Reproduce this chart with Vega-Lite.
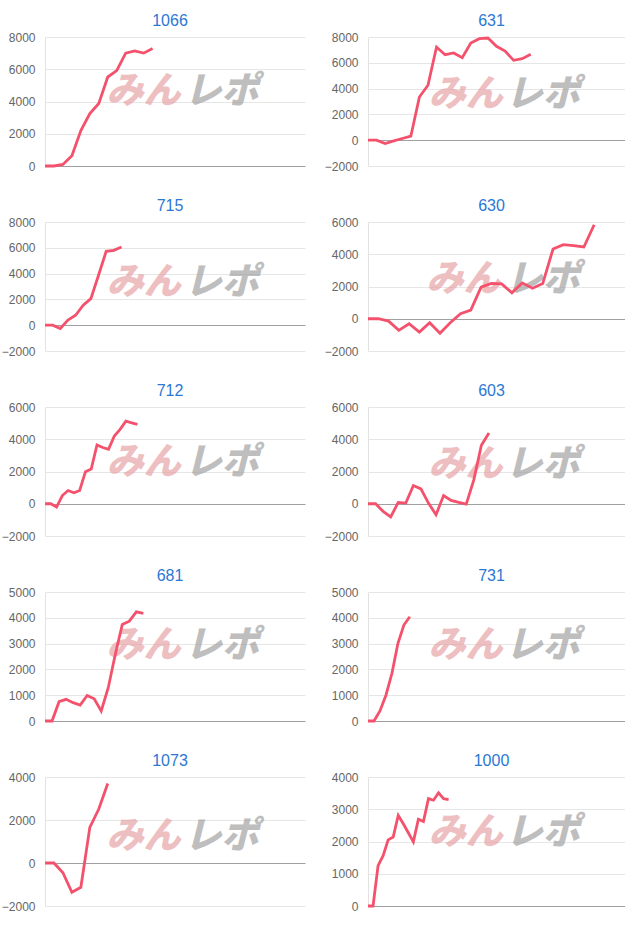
{
  "$schema": "https://vega.github.io/schema/vega-lite/v6.json",
  "padding": {"left": 0, "top": 13, "right": 0, "bottom": 0},
  "background": "white",
  "spacing": 26,
  "datasets": {
    "p1066": [{"x":0,"v":0},{"x":1,"v":0},{"x":2,"v":100},{"x":3,"v":640},{"x":4,"v":2200},{"x":5,"v":3250},{"x":6,"v":3880},{"x":7,"v":5520},{"x":8,"v":5920},{"x":9,"v":7000},{"x":10,"v":7140},{"x":11,"v":7000},{"x":12,"v":7290}],
    "p631": [{"x":0,"v":0},{"x":1,"v":0},{"x":2,"v":-260},{"x":3,"v":-50},{"x":4,"v":130},{"x":5,"v":310},{"x":6,"v":3350},{"x":7,"v":4260},{"x":8,"v":7220},{"x":9,"v":6630},{"x":10,"v":6760},{"x":11,"v":6400},{"x":12,"v":7530},{"x":13,"v":7870},{"x":14,"v":7920},{"x":15,"v":7280},{"x":16,"v":6910},{"x":17,"v":6190},{"x":18,"v":6320},{"x":19,"v":6660}],
    "p715": [{"x":0,"v":0},{"x":1,"v":0},{"x":2,"v":-260},{"x":3,"v":390},{"x":4,"v":770},{"x":5,"v":1550},{"x":6,"v":2060},{"x":7,"v":3870},{"x":8,"v":5730},{"x":9,"v":5800},{"x":10,"v":6060}],
    "p630": [{"x":0,"v":0},{"x":1,"v":0},{"x":2,"v":-145},{"x":3,"v":-720},{"x":4,"v":-310},{"x":5,"v":-825},{"x":6,"v":-250},{"x":7,"v":-905},{"x":8,"v":-250},{"x":9,"v":310},{"x":10,"v":535},{"x":11,"v":1960},{"x":12,"v":2185},{"x":13,"v":2165},{"x":14,"v":1610},{"x":15,"v":2225},{"x":16,"v":1895},{"x":17,"v":2185},{"x":18,"v":4325},{"x":19,"v":4595},{"x":20,"v":4530},{"x":21,"v":4450},{"x":22,"v":5830}],
    "p712": [{"x":0,"v":0},{"x":1,"v":0},{"x":2,"v":-205},{"x":3,"v":510},{"x":4,"v":820},{"x":5,"v":680},{"x":6,"v":820},{"x":7,"v":1990},{"x":8,"v":2150},{"x":9,"v":3650},{"x":10,"v":3490},{"x":11,"v":3380},{"x":12,"v":4200},{"x":13,"v":4610},{"x":14,"v":5125},{"x":15,"v":5020},{"x":16,"v":4920}],
    "p603": [{"x":0,"v":0},{"x":1,"v":0},{"x":2,"v":-470},{"x":3,"v":-820},{"x":4,"v":80},{"x":5,"v":40},{"x":6,"v":1130},{"x":7,"v":920},{"x":8,"v":40},{"x":9,"v":-680},{"x":10,"v":510},{"x":11,"v":205},{"x":12,"v":80},{"x":13,"v":-20},{"x":14,"v":1480},{"x":15,"v":3630},{"x":16,"v":4390}],
    "p681": [{"x":0,"v":0},{"x":1,"v":0},{"x":2,"v":750},{"x":3,"v":840},{"x":4,"v":710},{"x":5,"v":620},{"x":6,"v":990},{"x":7,"v":860},{"x":8,"v":390},{"x":9,"v":1290},{"x":10,"v":2580},{"x":11,"v":3740},{"x":12,"v":3870},{"x":13,"v":4230},{"x":14,"v":4170}],
    "p731": [{"x":0,"v":0},{"x":1,"v":0},{"x":2,"v":390},{"x":3,"v":1000},{"x":4,"v":1840},{"x":5,"v":3000},{"x":6,"v":3720},{"x":7,"v":4040}],
    "p1073": [{"x":0,"v":0},{"x":1,"v":0},{"x":2,"v":-450},{"x":3,"v":-1360},{"x":4,"v":-1130},{"x":5,"v":1660},{"x":6,"v":2510},{"x":7,"v":3700}],
    "p1000": [{"x":0,"v":0},{"x":1,"v":0},{"x":2,"v":1250},{"x":3,"v":1560},{"x":4,"v":2050},{"x":5,"v":2140},{"x":6,"v":2810},{"x":7,"v":2550},{"x":8,"v":2270},{"x":9,"v":1990},{"x":10,"v":2690},{"x":11,"v":2620},{"x":12,"v":3330},{"x":13,"v":3280},{"x":14,"v":3510},{"x":15,"v":3330},{"x":16,"v":3300}]
  },
  "vconcat": [
    {"spacing": 18, "hconcat": [
      {"width": 260, "height": 129, "title": {"text": "1066"},
       "encoding": {
         "x": {"field": "x", "type": "quantitative", "scale": {"domain": [0, 29], "nice": false, "zero": false}, "axis": null},
         "y": {"field": "v", "type": "quantitative", "scale": {"domain": [0, 8000], "nice": false}, "axis": {"title": null, "values": [0, 2000, 4000, 6000, 8000]}}},
       "layer": [
        {"data": {"values": [{"t": "みん", "x": 11.0, "v": 4600}]}, "mark": {"type": "text", "fill": "#e7a4a8"}, "encoding": {"text": {"field": "t"}}},
        {"data": {"values": [{"t": "レポ", "x": 19.7, "v": 4600}]}, "mark": {"type": "text", "fill": "#a3a3a3"}, "encoding": {"text": {"field": "t"}}},
        {"data": {"name": "p1066"}, "mark": {"type": "line", "color": "#f4516c", "strokeWidth": 2.8}}
      ]},
      {"width": 257, "height": 129, "title": {"text": "631"},
       "encoding": {
         "x": {"field": "x", "type": "quantitative", "scale": {"domain": [0, 30], "nice": false, "zero": false}, "axis": null},
         "y": {"field": "v", "type": "quantitative", "scale": {"domain": [-2000, 8000], "nice": false}, "axis": {"title": null, "values": [-2000, 0, 2000, 4000, 6000, 8000]}}},
       "layer": [
        {"data": {"values": [{"t": "みん", "x": 11.4, "v": 3500}]}, "mark": {"type": "text", "fill": "#e7a4a8"}, "encoding": {"text": {"field": "t"}}},
        {"data": {"values": [{"t": "レポ", "x": 20.4, "v": 3500}]}, "mark": {"type": "text", "fill": "#a3a3a3"}, "encoding": {"text": {"field": "t"}}},
        {"data": {"name": "p631"}, "mark": {"type": "line", "color": "#f4516c", "strokeWidth": 2.8}}
      ]}
    ]},
    {"spacing": 18, "hconcat": [
      {"width": 260, "height": 129, "title": {"text": "715"},
       "encoding": {
         "x": {"field": "x", "type": "quantitative", "scale": {"domain": [0, 34], "nice": false, "zero": false}, "axis": null},
         "y": {"field": "v", "type": "quantitative", "scale": {"domain": [-2000, 8000], "nice": false}, "axis": {"title": null, "values": [-2000, 0, 2000, 4000, 6000, 8000]}}},
       "layer": [
        {"data": {"values": [{"t": "みん", "x": 12.9, "v": 3300}]}, "mark": {"type": "text", "fill": "#e7a4a8"}, "encoding": {"text": {"field": "t"}}},
        {"data": {"values": [{"t": "レポ", "x": 23.1, "v": 3300}]}, "mark": {"type": "text", "fill": "#a3a3a3"}, "encoding": {"text": {"field": "t"}}},
        {"data": {"name": "p715"}, "mark": {"type": "line", "color": "#f4516c", "strokeWidth": 2.8}}
      ]},
      {"width": 257, "height": 129, "title": {"text": "630"},
       "encoding": {
         "x": {"field": "x", "type": "quantitative", "scale": {"domain": [0, 25], "nice": false, "zero": false}, "axis": null},
         "y": {"field": "v", "type": "quantitative", "scale": {"domain": [-2000, 6000], "nice": false}, "axis": {"title": null, "values": [-2000, 0, 2000, 4000, 6000]}}},
       "layer": [
        {"data": {"values": [{"t": "みん", "x": 9.3, "v": 2400}]}, "mark": {"type": "text", "fill": "#e7a4a8"}, "encoding": {"text": {"field": "t"}}},
        {"data": {"values": [{"t": "レポ", "x": 17.0, "v": 2400}]}, "mark": {"type": "text", "fill": "#a3a3a3"}, "encoding": {"text": {"field": "t"}}},
        {"data": {"name": "p630"}, "mark": {"type": "line", "color": "#f4516c", "strokeWidth": 2.8}}
      ]}
    ]},
    {"spacing": 18, "hconcat": [
      {"width": 260, "height": 129, "title": {"text": "712"},
       "encoding": {
         "x": {"field": "x", "type": "quantitative", "scale": {"domain": [0, 45], "nice": false, "zero": false}, "axis": null},
         "y": {"field": "v", "type": "quantitative", "scale": {"domain": [-2000, 6000], "nice": false}, "axis": {"title": null, "values": [-2000, 0, 2000, 4000, 6000]}}},
       "layer": [
        {"data": {"values": [{"t": "みん", "x": 17.1, "v": 2500}]}, "mark": {"type": "text", "fill": "#e7a4a8"}, "encoding": {"text": {"field": "t"}}},
        {"data": {"values": [{"t": "レポ", "x": 30.6, "v": 2500}]}, "mark": {"type": "text", "fill": "#a3a3a3"}, "encoding": {"text": {"field": "t"}}},
        {"data": {"name": "p712"}, "mark": {"type": "line", "color": "#f4516c", "strokeWidth": 2.8}}
      ]},
      {"width": 257, "height": 129, "title": {"text": "603"},
       "encoding": {
         "x": {"field": "x", "type": "quantitative", "scale": {"domain": [0, 34], "nice": false, "zero": false}, "axis": null},
         "y": {"field": "v", "type": "quantitative", "scale": {"domain": [-2000, 6000], "nice": false}, "axis": {"title": null, "values": [-2000, 0, 2000, 4000, 6000]}}},
       "layer": [
        {"data": {"values": [{"t": "みん", "x": 12.9, "v": 2400}]}, "mark": {"type": "text", "fill": "#e7a4a8"}, "encoding": {"text": {"field": "t"}}},
        {"data": {"values": [{"t": "レポ", "x": 23.1, "v": 2400}]}, "mark": {"type": "text", "fill": "#a3a3a3"}, "encoding": {"text": {"field": "t"}}},
        {"data": {"name": "p603"}, "mark": {"type": "line", "color": "#f4516c", "strokeWidth": 2.8}}
      ]}
    ]},
    {"spacing": 18, "hconcat": [
      {"width": 260, "height": 129, "title": {"text": "681"},
       "encoding": {
         "x": {"field": "x", "type": "quantitative", "scale": {"domain": [0, 37], "nice": false, "zero": false}, "axis": null},
         "y": {"field": "v", "type": "quantitative", "scale": {"domain": [0, 5000], "nice": false}, "axis": {"title": null, "values": [0, 1000, 2000, 3000, 4000, 5000]}}},
       "layer": [
        {"data": {"values": [{"t": "みん", "x": 14.0, "v": 2900}]}, "mark": {"type": "text", "fill": "#e7a4a8"}, "encoding": {"text": {"field": "t"}}},
        {"data": {"values": [{"t": "レポ", "x": 25.2, "v": 2900}]}, "mark": {"type": "text", "fill": "#a3a3a3"}, "encoding": {"text": {"field": "t"}}},
        {"data": {"name": "p681"}, "mark": {"type": "line", "color": "#f4516c", "strokeWidth": 2.8}}
      ]},
      {"width": 257, "height": 129, "title": {"text": "731"},
       "encoding": {
         "x": {"field": "x", "type": "quantitative", "scale": {"domain": [0, 43], "nice": false, "zero": false}, "axis": null},
         "y": {"field": "v", "type": "quantitative", "scale": {"domain": [0, 5000], "nice": false}, "axis": {"title": null, "values": [0, 1000, 2000, 3000, 4000, 5000]}}},
       "layer": [
        {"data": {"values": [{"t": "みん", "x": 16.3, "v": 2900}]}, "mark": {"type": "text", "fill": "#e7a4a8"}, "encoding": {"text": {"field": "t"}}},
        {"data": {"values": [{"t": "レポ", "x": 29.2, "v": 2900}]}, "mark": {"type": "text", "fill": "#a3a3a3"}, "encoding": {"text": {"field": "t"}}},
        {"data": {"name": "p731"}, "mark": {"type": "line", "color": "#f4516c", "strokeWidth": 2.8}}
      ]}
    ]},
    {"spacing": 18, "hconcat": [
      {"width": 260, "height": 129, "title": {"text": "1073"},
       "encoding": {
         "x": {"field": "x", "type": "quantitative", "scale": {"domain": [0, 29], "nice": false, "zero": false}, "axis": null},
         "y": {"field": "v", "type": "quantitative", "scale": {"domain": [-2000, 4000], "nice": false}, "axis": {"title": null, "values": [-2000, 0, 2000, 4000]}}},
       "layer": [
        {"data": {"values": [{"t": "みん", "x": 11.0, "v": 1200}]}, "mark": {"type": "text", "fill": "#e7a4a8"}, "encoding": {"text": {"field": "t"}}},
        {"data": {"values": [{"t": "レポ", "x": 19.7, "v": 1200}]}, "mark": {"type": "text", "fill": "#a3a3a3"}, "encoding": {"text": {"field": "t"}}},
        {"data": {"name": "p1073"}, "mark": {"type": "line", "color": "#f4516c", "strokeWidth": 2.8}}
      ]},
      {"width": 257, "height": 129, "title": {"text": "1000"},
       "encoding": {
         "x": {"field": "x", "type": "quantitative", "scale": {"domain": [0, 51], "nice": false, "zero": false}, "axis": null},
         "y": {"field": "v", "type": "quantitative", "scale": {"domain": [0, 4000], "nice": false}, "axis": {"title": null, "values": [0, 1000, 2000, 3000, 4000]}}},
       "layer": [
        {"data": {"values": [{"t": "みん", "x": 19.4, "v": 2250}]}, "mark": {"type": "text", "fill": "#e7a4a8"}, "encoding": {"text": {"field": "t"}}},
        {"data": {"values": [{"t": "レポ", "x": 34.7, "v": 2250}]}, "mark": {"type": "text", "fill": "#a3a3a3"}, "encoding": {"text": {"field": "t"}}},
        {"data": {"name": "p1000"}, "mark": {"type": "line", "color": "#f4516c", "strokeWidth": 2.8}}
      ]}
    ]}
  ],
  "config": {
    "view": {"stroke": null},
    "text": {"align": "center", "baseline": "middle", "font": "Noto Sans CJK JP", "fontSize": 37, "fontWeight": 900, "fontStyle": "italic", "opacity": 0.7},
    "axisY": {
      "ticks": false,
      "format": "d",
      "domainColor": "#e2e2e2",
      "gridColor": {"condition": {"test": "datum.value === 0", "value": "#a0a0a0"}, "value": "#e6e6e6"},
      "labelColor": "#666666",
      "labelFont": "Liberation Sans",
      "labelFontSize": 12,
      "labelPadding": 10,
      "minExtent": 45,
      "maxExtent": 45
    },
    "title": {"font": "Liberation Sans", "fontSize": 16, "fontWeight": "normal", "color": "#2b78d4", "offset": 2, "baseline": "bottom", "dx": -5}
  }
}
